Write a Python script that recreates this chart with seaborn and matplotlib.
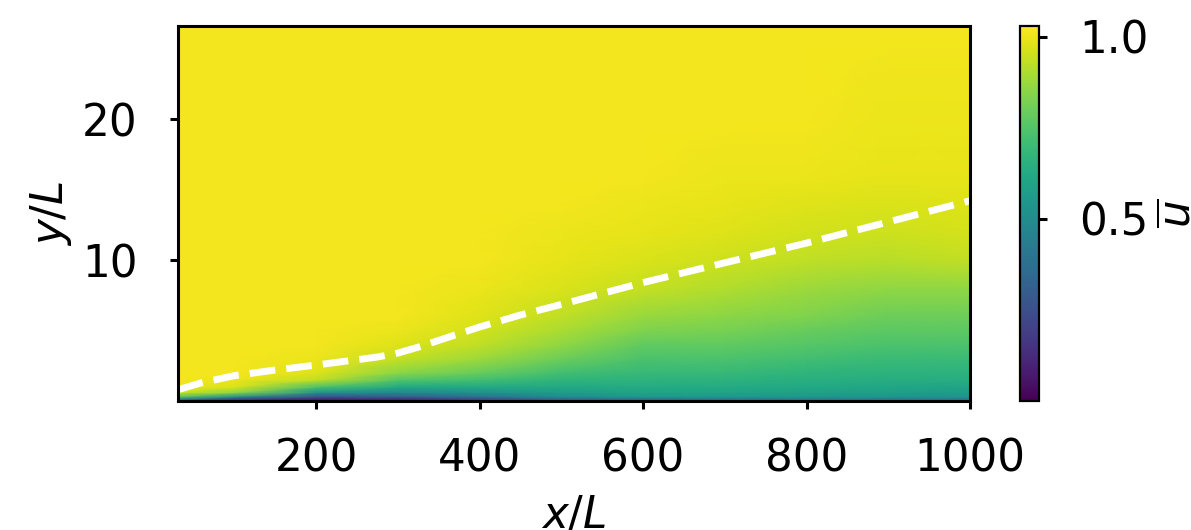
import numpy as np
import matplotlib
matplotlib.use("Agg")
import matplotlib.pyplot as plt
import seaborn as sns

x_stations = [31, 100, 200, 300, 400, 500, 600, 700, 800, 900, 1000]
y_stations = [0, 0.1, 0.3, 0.6, 1.0, 1.5, 2.0, 3.0, 4.0, 5.0, 6.0, 8.0,
              10.0, 12.0, 14.0, 16.0, 20.0, 26.6]

# u-bar profiles (one list per x station, values at y_stations)
u_x31 = [0.0, 0.35, 0.75, 0.95, 1.0, 1.01, 1.01, 1.01, 1.01, 1.01, 1.01, 1.01, 1.01, 1.01, 1.01, 1.01, 1.01, 1.01]
u_x100 = [0.0, 0.15, 0.5, 0.85, 0.97, 1.0, 1.01, 1.01, 1.01, 1.01, 1.01, 1.01, 1.01, 1.01, 1.01, 1.01, 1.01, 1.01]
u_x200 = [0.0, 0.08, 0.25, 0.52, 0.74, 0.93, 0.98, 1.0, 1.01, 1.01, 1.01, 1.01, 1.01, 1.01, 1.01, 1.01, 1.01, 1.01]
u_x300 = [0.0, 0.1, 0.3, 0.48, 0.62, 0.75, 0.85, 0.94, 0.98, 1.0, 1.01, 1.01, 1.01, 1.01, 1.01, 1.01, 1.01, 1.01]
u_x400 = [0.0, 0.2, 0.38, 0.52, 0.62, 0.72, 0.79, 0.88, 0.93, 0.96, 0.98, 1.0, 1.01, 1.01, 1.01, 1.01, 1.01, 1.01]
u_x500 = [0.0, 0.3, 0.5, 0.57, 0.62, 0.67, 0.72, 0.8, 0.86, 0.9, 0.93, 0.97, 0.99, 1.0, 1.01, 1.01, 1.01, 1.01]
u_x600 = [0.0, 0.35, 0.55, 0.6, 0.63, 0.665, 0.69, 0.74, 0.78, 0.83, 0.87, 0.94, 0.97, 0.99, 1.0, 1.01, 1.01, 1.01]
u_x700 = [0.0, 0.38, 0.55, 0.6, 0.63, 0.66, 0.69, 0.74, 0.78, 0.82, 0.85, 0.91, 0.95, 0.98, 0.99, 1.0, 1.01, 1.01]
u_x800 = [0.0, 0.4, 0.55, 0.59, 0.62, 0.65, 0.67, 0.72, 0.76, 0.79, 0.83, 0.88, 0.93, 0.96, 0.98, 1.0, 1.01, 1.01]
u_x900 = [0.0, 0.4, 0.54, 0.58, 0.61, 0.64, 0.66, 0.7, 0.74, 0.77, 0.8, 0.86, 0.92, 0.95, 0.97, 0.99, 1.0, 1.01]
u_x1000 = [0.0, 0.4, 0.53, 0.57, 0.6, 0.64, 0.66, 0.7, 0.74, 0.77, 0.8, 0.86, 0.935, 0.965, 0.98, 0.99, 1.0, 1.01]

# boundary-layer thickness (dashed line)
delta_x = [31, 60, 100, 150, 200, 250, 275, 300, 325, 350, 400, 450, 500, 600, 700, 800, 900, 1000]
delta_y = [0.8, 1.3, 1.8, 2.2, 2.55, 2.93, 3.12, 3.4, 3.82, 4.3, 5.25, 6.1, 6.85, 8.4, 9.8, 11.2, 12.7, 14.2]

x_ticks = [200, 400, 600, 800, 1000]
y_ticks = [10, 20]
cbar_ticks = [0.5, 1.0]

sns.set_theme(style="ticks")
plt.rcParams["font.family"] = ["DejaVu Sans"]
plt.rcParams["mathtext.fontset"] = "dejavusans"
for k in ["text.color", "axes.labelcolor", "xtick.color", "ytick.color", "axes.edgecolor"]:
    plt.rcParams[k] = "black"

DPI = 200
fig = plt.figure(figsize=(1191 / DPI, 530 / DPI), dpi=DPI)
ax = fig.add_axes([0.1495, 0.2434, 0.8144 - 0.1495, 0.951 - 0.2434])
cax = fig.add_axes([0.8564, 0.2434, 0.016, 0.951 - 0.2434])

U = np.array([u_x31, u_x100, u_x200, u_x300, u_x400, u_x500, u_x600,
              u_x700, u_x800, u_x900, u_x1000]).T
X, Y = np.meshgrid(np.array(x_stations, float), np.array(y_stations, float))
mesh = ax.pcolormesh(X, Y, U, cmap="viridis", shading="gouraud", vmin=0.0, vmax=1.03,
                     rasterized=True)

sns.lineplot(x=delta_x, y=delta_y, ax=ax, color="white", linestyle="--", linewidth=2.5)

ax.set_xlim(31, 1000)
ax.set_ylim(0, 26.6)
ax.set_xticks(x_ticks)
ax.set_yticks(y_ticks)
fs = 15.7
ax.tick_params(labelsize=fs, length=3.0, width=1.1, colors="black", direction="out")
ax.tick_params(axis="x", pad=10)
ax.tick_params(axis="y", pad=11.5)
ax.set_xlabel(r"$x/L$", fontsize=fs, labelpad=5)
ax.set_ylabel(r"$y/L$", fontsize=fs, labelpad=3)
for s in ax.spines.values():
    s.set_linewidth(1.1)
    s.set_color("black")

cb = fig.colorbar(mesh, cax=cax)
cb.set_ticks(cbar_ticks)
cb.ax.tick_params(labelsize=fs, length=3.0, width=1.1, colors="black", pad=11.5)
cb.outline.set_linewidth(0.8)
cb.outline.set_edgecolor("black")
cb.set_label(r"$\overline{u}$", fontsize=fs, labelpad=3)

fig.savefig("out.png", dpi=DPI)
